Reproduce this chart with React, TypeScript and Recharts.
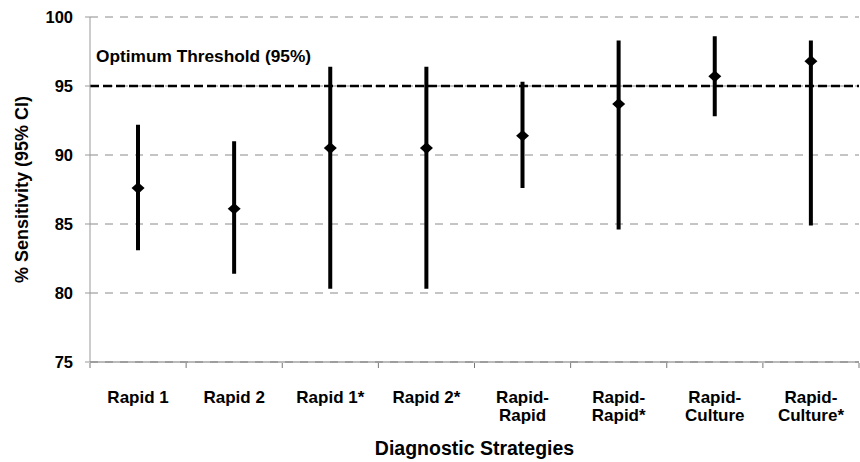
import React from "react";
import {
  ComposedChart,
  Bar,
  Line,
  XAxis,
  YAxis,
  CartesianGrid,
  ReferenceLine,
} from "recharts";

const categories = [
  "Rapid 1",
  "Rapid 2",
  "Rapid 1*",
  "Rapid 2*",
  "Rapid-\nRapid",
  "Rapid-\nRapid*",
  "Rapid-\nCulture",
  "Rapid-\nCulture*",
];
const sensitivity = [87.6, 86.1, 90.5, 90.5, 91.4, 93.7, 95.7, 96.8];
const lowerCI = [83.1, 81.4, 80.3, 80.3, 87.6, 84.6, 92.8, 84.9];
const upperCI = [92.2, 91.0, 96.4, 96.4, 95.3, 98.3, 98.6, 98.3];
const yTicks = [75, 80, 85, 90, 95, 100];
const boundaryTicks = [0, 1, 2, 3, 4, 5, 6, 7, 8];
const threshold = 95;
const thresholdLabel = "Optimum Threshold (95%)";
const xTitle = "Diagnostic Strategies";
const yTitle = "% Sensitivity (95% CI)";

const data = categories.map((name, i) => ({
  name,
  pos: i + 0.5,
  value: sensitivity[i],
  range: [lowerCI[i], upperCI[i]],
}));

const FONT = "'Liberation Sans', Arial, sans-serif";

const Diamond = (props: any) => {
  const { cx, cy } = props;
  if (cx == null || cy == null) return null;
  const w = 6.5;
  const h = 5.8;
  return (
    <path
      d={`M${cx},${cy - h}L${cx + w},${cy}L${cx},${cy + h}L${cx - w},${cy}Z`}
      fill="#000"
      stroke="none"
    />
  );
};

const CategoryTick = (props: any) => {
  const { x, y, payload } = props;
  const lines = String(payload.value).split("\n");
  return (
    <text
      x={x}
      y={y + 41}
      textAnchor="middle"
      fontFamily={FONT}
      fontWeight="bold"
      fontSize={17}
      fill="#000"
    >
      {lines.map((l, i) => (
        <tspan key={i} x={x} dy={i === 0 ? 0 : 18}>
          {l}
        </tspan>
      ))}
    </text>
  );
};

const ThresholdLabel = (props: any) => {
  const { viewBox } = props;
  return (
    <text
      x={viewBox.x + 6}
      y={viewBox.y - 24}
      fontFamily={FONT}
      fontWeight="bold"
      fontSize={17.3}
      fill="#000"
    >
      {thresholdLabel}
    </text>
  );
};

export default function App() {
  return (
    <div style={{ position: "absolute", left: 0, top: 0, background: "#fff" }}>
      <ComposedChart
        width={860}
        height={462}
        data={data}
        margin={{ top: 17, right: 1, bottom: 0, left: 0 }}
      >
        <CartesianGrid
          vertical={false}
          stroke="#8a8a8a"
          strokeDasharray="8 7"
          strokeWidth={1}
        />
        <XAxis
          dataKey="name"
          height={1}
          axisLine={{ stroke: "#777" }}
          tickLine={false}
          tickSize={0}
          tickMargin={0}
          interval={0}
          tick={<CategoryTick />}
        />
        <XAxis
          xAxisId="b"
          dataKey="pos"
          type="number"
          domain={[0, 8]}
          ticks={boundaryTicks}
          interval={0}
          tickFormatter={() => ""}
          height={99}
          tickSize={5}
          axisLine={false}
          tickLine={{ stroke: "#777" }}
          allowDataOverflow
          label={{
            value: xTitle,
            position: "insideBottom",
            offset: 7,
            style: {
              fontFamily: FONT,
              fontWeight: "bold",
              fontSize: 19.5,
              fill: "#000",
            },
          }}
        />
        <YAxis
          width={90}
          domain={[75, 100]}
          ticks={yTicks}
          interval={0}
          allowDataOverflow
          tickSize={5}
          tickMargin={12}
          axisLine={{ stroke: "#999" }}
          tickLine={{ stroke: "#999" }}
          tick={{
            fontFamily: FONT,
            fontWeight: "bold",
            fontSize: 16.5,
            fill: "#000",
          }}
          label={{
            value: yTitle,
            angle: -90,
            position: "insideLeft",
            offset: 22,
            style: {
              fontFamily: FONT,
              fontWeight: "bold",
              fontSize: 18,
              fill: "#000",
              textAnchor: "middle",
            },
          }}
        />
        <ReferenceLine
          y={threshold}
          stroke="#000"
          strokeWidth={2.5}
          strokeDasharray="9 4"
          label={<ThresholdLabel />}
        />
        <Bar
          dataKey="range"
          barSize={4}
          fill="#000"
          isAnimationActive={false}
        />
        <Line
          dataKey="value"
          stroke="none"
          dot={<Diamond />}
          activeDot={false}
          isAnimationActive={false}
        />
      </ComposedChart>
    </div>
  );
}
